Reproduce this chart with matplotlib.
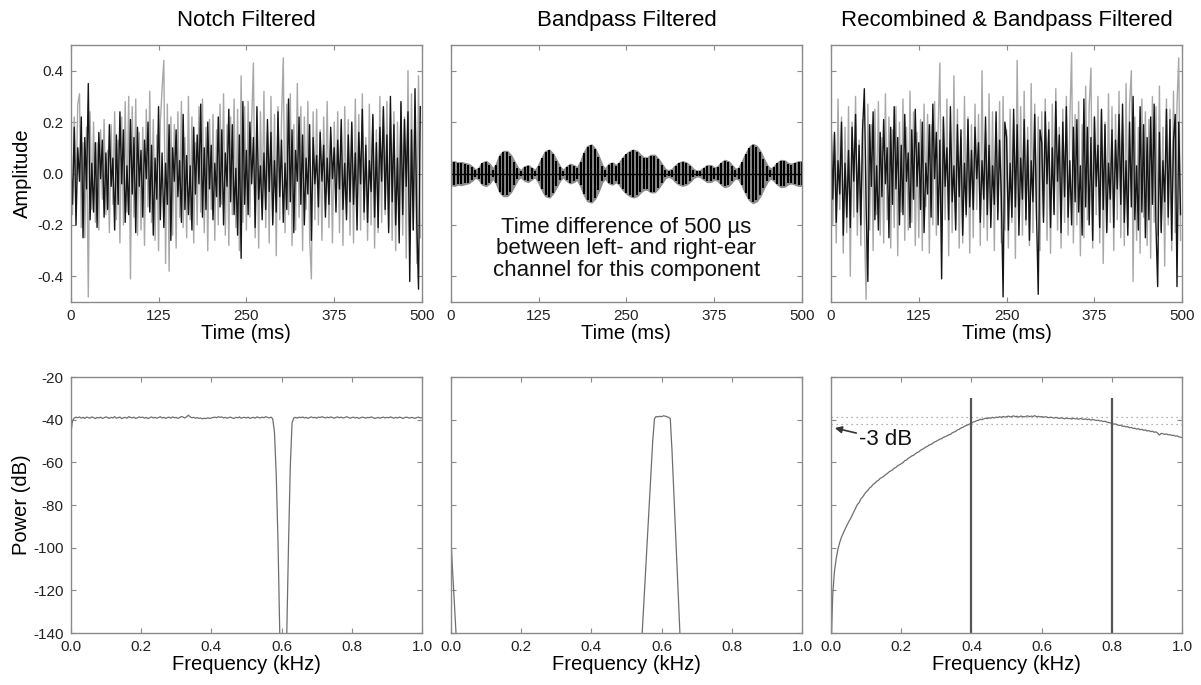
import matplotlib
matplotlib.use("Agg")
import matplotlib.pyplot as plt
import numpy as np

plt.rcParams['font.family'] = ['Liberation Sans', 'DejaVu Sans']

# ---- time-domain traces (ms grid, 2.5 ms per sample) ----
notch_gray = [
    0.14, -0.16, 0.22, -0.08, 0.27, 0.31, -0.21, 0.12, -0.25, 0.18, -0.48, 0.24, -0.14, 0.20, -0.19, 0.12, -0.22, 0.17, -0.10, 0.21,
    -0.16, 0.09, -0.23, 0.19, -0.12, 0.24, -0.18, 0.13, -0.27, 0.22, -0.20, 0.28, -0.15, 0.30, -0.41, 0.26, -0.17, 0.29, -0.24, 0.16,
    -0.22, 0.18, -0.28, 0.25, -0.13, 0.32, -0.19, 0.21, -0.26, 0.15, -0.30, 0.20, 0.33, 0.44, -0.35, 0.27, -0.38, 0.22, -0.24, 0.19,
    -0.29, 0.24, -0.17, 0.28, -0.21, 0.14, -0.25, 0.30, -0.18, 0.22, -0.27, 0.12, -0.20, 0.26, -0.15, 0.29, -0.23, 0.18, -0.30, 0.21,
    -0.14, 0.23, -0.26, 0.17, -0.20, 0.27, -0.12, 0.31, -0.24, 0.19, -0.28, 0.22, -0.16, 0.29, -0.21, 0.25, -0.30, 0.38, -0.19, 0.26,
    -0.22, 0.28, -0.17, 0.20, 0.43, -0.25, 0.18, -0.29, 0.24, -0.13, 0.32, -0.21, 0.16, -0.27, 0.30, -0.19, 0.23, -0.32, 0.26, -0.18,
    0.21, 0.45, -0.23, 0.27, -0.16, 0.31, -0.28, 0.19, -0.22, 0.35, -0.17, 0.26, -0.30, 0.22, -0.14, 0.28, -0.25, -0.41, 0.24, -0.18,
    0.25, -0.20, 0.17, -0.26, 0.22, -0.14, 0.28, -0.21, 0.15, -0.27, 0.20, -0.12, 0.24, -0.23, 0.18, -0.28, 0.26, -0.16, 0.21, -0.24,
    0.19, -0.27, 0.29, -0.15, 0.23, -0.22, 0.31, -0.18, 0.14, -0.26, 0.27, -0.20, 0.22, -0.29, 0.17, -0.23, 0.30, -0.19, 0.25, -0.16,
    0.28, -0.21, 0.18, -0.26, 0.24, -0.30, 0.20, -0.17, 0.27, -0.24, 0.22, -0.33, 0.40, -0.28, 0.31, -0.22, 0.26, -0.35, 0.38, -0.25,
]
notch_black = [
    0.05, -0.12, 0.18, -0.20, 0.10, -0.03, 0.22, -0.25, 0.14, -0.06, 0.35, -0.18, 0.04, -0.15, 0.12, -0.21, 0.16, -0.02, 0.13, -0.17,
    0.08, -0.14, 0.19, -0.05, 0.06, -0.22, 0.15, -0.12, 0.24, -0.04, 0.17, -0.19, 0.03, -0.16, 0.21, -0.08, 0.14, -0.23, 0.18, -0.05,
    0.09, -0.17, 0.13, -0.02, 0.20, -0.15, 0.11, -0.24, 0.06, -0.10, 0.26, -0.18, 0.08, -0.21, 0.04, -0.12, 0.19, -0.26, 0.10, -0.03,
    0.17, -0.09, 0.05, -0.19, 0.23, -0.14, 0.07, -0.16, 0.03, -0.22, 0.18, -0.08, 0.15, -0.04, 0.27, -0.17, 0.10, -0.14, 0.20, -0.06,
    0.11, -0.18, 0.04, -0.09, 0.22, -0.13, 0.17, -0.20, 0.08, -0.05, 0.25, -0.11, 0.19, -0.16, 0.02, -0.24, 0.15, -0.33, 0.28, -0.12,
    0.09, -0.16, 0.20, -0.04, 0.14, -0.21, 0.26, -0.10, 0.03, -0.18, 0.08, -0.14, 0.21, -0.07, 0.16, -0.20, 0.05, -0.15, 0.24, -0.09,
    0.13, -0.19, 0.04, -0.14, 0.29, -0.11, 0.17, -0.23, 0.09, -0.03, 0.22, -0.12, 0.15, -0.20, 0.06, -0.08, 0.19, -0.26, 0.14, -0.04,
    0.07, -0.13, 0.16, -0.03, 0.11, -0.17, 0.06, -0.12, 0.18, -0.02, 0.10, -0.15, 0.13, -0.06, 0.21, -0.14, 0.04, -0.18, 0.15, -0.11,
    0.20, -0.12, 0.08, -0.22, 0.16, -0.04, 0.25, -0.15, 0.11, -0.19, 0.05, -0.07, 0.23, -0.17, 0.12, -0.21, 0.18, -0.03, 0.26, -0.14,
    0.15, -0.23, 0.30, -0.11, 0.19, -0.20, 0.06, -0.27, 0.28, -0.16, 0.21, -0.05, 0.24, -0.42, 0.17, -0.22, 0.33, -0.19, -0.45, 0.26,
]
recomb_gray = [
    0.24, -0.20, 0.15, -0.27, 0.29, -0.14, 0.22, -0.31, 0.18, -0.23, 0.26, -0.40, 0.20, -0.17, 0.30, -0.24, 0.13, -0.28, 0.21, -0.19,
    -0.49, 0.27, -0.22, 0.19, -0.30, 0.25, -0.16, 0.28, -0.24, 0.14, -0.27, 0.31, -0.18, 0.22, -0.29, 0.17, -0.21, 0.26, -0.32, 0.20,
    -0.15, 0.29, -0.26, 0.18, -0.22, 0.32, -0.19, 0.24, -0.28, 0.16, -0.25, 0.21, -0.30, 0.27, -0.13, 0.23, -0.31, 0.19, -0.20, 0.28,
    -0.24, 0.17, 0.43, -0.26, 0.21, -0.18, 0.29, -0.32, 0.16, -0.23, 0.38, -0.20, 0.25, -0.29, 0.14, -0.27, 0.30, -0.17, 0.22, -0.31,
    0.19, -0.25, 0.27, -0.14, 0.23, -0.28, 0.40, -0.21, 0.16, -0.26, 0.31, -0.18, 0.24, -0.30, 0.20, -0.15, 0.28, -0.27, 0.30, -0.22,
    0.17, -0.29, 0.25, -0.19, 0.21, -0.33, 0.44, -0.16, 0.26, -0.24, 0.32, -0.20, 0.18, -0.28, 0.35, -0.23, 0.27, -0.18, 0.22, -0.30,
    0.24, -0.17, 0.29, -0.26, 0.20, -0.31, 0.27, -0.15, 0.33, -0.22, 0.18, -0.29, 0.25, -0.19, 0.30, -0.24, 0.21, 0.47, -0.27, 0.23,
    -0.20, 0.28, -0.32, 0.19, -0.25, 0.34, -0.18, 0.26, 0.41, -0.29, 0.22, -0.16, 0.30, -0.27, 0.24, -0.35, 0.20, -0.22, 0.31, -0.19,
    0.26, -0.30, 0.23, -0.18, 0.32, -0.25, 0.19, -0.28, 0.35, -0.21, 0.27, 0.40, -0.42, 0.22, -0.26, 0.18, -0.31, 0.29, -0.17, 0.24,
    -0.28, 0.21, -0.33, 0.30, -0.19, 0.26, -0.24, 0.34, -0.22, 0.18, -0.36, 0.29, -0.20, 0.25, -0.30, 0.32, -0.23, 0.27, 0.45, -0.26,
]
recomb_black = [
    0.22, -0.10, 0.16, -0.19, 0.05, -0.08, 0.20, -0.24, 0.04, -0.17, 0.09, -0.21, 0.18, -0.03, 0.23, -0.15, 0.11, -0.20, 0.17, 0.33,
    -0.13, -0.42, 0.19, -0.05, 0.24, -0.18, 0.03, -0.22, 0.16, -0.09, 0.21, -0.04, 0.10, -0.25, 0.18, -0.12, 0.26, -0.06, 0.14, -0.20,
    0.11, -0.16, 0.23, -0.03, 0.08, -0.21, 0.17, -0.10, 0.25, -0.05, 0.12, -0.14, 0.20, -0.23, 0.04, -0.08, 0.19, -0.17, 0.27, -0.02,
    0.16, -0.20, 0.13, -0.41, 0.22, -0.05, 0.10, -0.18, 0.26, -0.11, 0.03, -0.22, 0.19, -0.09, 0.17, -0.24, 0.04, -0.16, 0.21, -0.13,
    0.09, -0.14, 0.18, -0.02, 0.12, -0.19, 0.05, -0.10, 0.22, -0.16, 0.11, -0.21, 0.03, -0.12, 0.24, -0.18, 0.13, -0.09, -0.48, 0.20,
    0.14, -0.22, 0.04, -0.17, 0.25, -0.13, 0.19, -0.24, 0.06, -0.10, 0.21, -0.18, 0.13, -0.26, 0.05, -0.11, 0.23, -0.15, -0.47, 0.17,
    0.12, -0.19, 0.24, -0.04, 0.17, -0.21, 0.10, -0.16, 0.28, -0.03, 0.15, -0.23, 0.20, -0.09, 0.26, -0.17, 0.05, -0.20, 0.18, -0.11,
    0.21, -0.15, 0.03, -0.24, 0.29, -0.13, 0.18, -0.20, 0.14, -0.26, 0.22, -0.05, 0.11, -0.21, 0.25, -0.14, 0.19, -0.23, 0.04, -0.10,
    0.17, -0.21, 0.13, -0.06, 0.23, -0.12, 0.27, -0.19, 0.05, -0.24, 0.20, -0.13, 0.30, -0.18, 0.03, -0.22, 0.26, -0.15, 0.19, -0.25,
    0.14, -0.18, 0.22, -0.12, 0.27, -0.20, -0.44, 0.16, -0.23, 0.05, -0.11, 0.25, -0.17, 0.21, -0.26, 0.13, 0.23, -0.44, 0.20, -0.16,
]
# bandpass component: envelope amplitude every 5 ms (0..500)
bp_envelope = [
    0.042, 0.045, 0.040, 0.042, 0.038, 0.035, 0.025, 0.012, 0.020, 0.040,
    0.046, 0.035, 0.015, 0.035, 0.070, 0.085, 0.085, 0.070, 0.045, 0.020,
    0.010, 0.025, 0.030, 0.020, 0.010, 0.030, 0.060, 0.085, 0.090, 0.075,
    0.050, 0.025, 0.010, 0.025, 0.035, 0.030, 0.020, 0.045, 0.080, 0.105,
    0.110, 0.095, 0.065, 0.030, 0.015, 0.035, 0.040, 0.030, 0.040, 0.060,
    0.075, 0.085, 0.090, 0.085, 0.070, 0.060, 0.060, 0.070, 0.070, 0.055,
    0.035, 0.015, 0.010, 0.015, 0.030, 0.040, 0.045, 0.040, 0.030, 0.015,
    0.008, 0.010, 0.020, 0.030, 0.030, 0.020, 0.025, 0.040, 0.050, 0.045,
    0.030, 0.015, 0.020, 0.045, 0.075, 0.100, 0.112, 0.105, 0.085, 0.055,
    0.030, 0.015, 0.025, 0.040, 0.050, 0.048, 0.038, 0.035, 0.040, 0.045,
    0.045,
]

# ---- spectra (kHz grid, 0.005 kHz per sample) ----
notch_power = [
    -47.0, -40.5, -39.2, -38.8, -39.1, -38.7, -39.3, -38.9, -39.4, -38.8,
    -39.0, -39.3, -38.7, -39.0, -39.5, -38.9, -39.2, -38.8, -39.4, -39.1,
    -38.7, -39.0, -39.4, -38.9, -39.2, -38.6, -39.3, -39.0, -38.8, -39.5,
    -39.1, -38.9, -39.3, -38.6, -38.9, -39.2, -38.8, -39.4, -39.1, -38.7,
    -39.0, -38.8, -39.3, -38.9, -39.5, -39.1, -38.7, -39.2, -38.9, -39.3,
    -39.0, -38.6, -39.2, -38.9, -39.4, -39.0, -38.8, -39.3, -38.7, -39.1,
    -38.9, -39.4, -39.0, -38.5, -38.8, -39.2, -38.6, -37.9, -38.7, -39.1,
    -38.9, -39.3, -39.0, -39.4, -39.2, -39.6, -39.3, -39.5, -39.1, -39.4,
    -39.2, -39.0, -38.8, -39.1, -38.6, -38.9, -38.7, -39.2, -38.9, -39.3,
    -39.0, -38.8, -39.2, -39.4, -38.9, -39.1, -38.7, -39.3, -39.0, -38.9,
    -39.2, -38.8, -39.4, -39.1, -38.9, -39.3, -38.7, -39.0, -39.2, -38.8,
    -39.1, -38.6, -38.9, -39.2, -38.8, -39.6, -46.0, -66.0, -97.0, -140.0,
    -170.0, -175.0, -170.0, -140.0, -98.0, -62.0, -41.5, -39.2, -38.9, -39.3,
    -38.8, -39.1, -38.7, -39.2, -38.9, -39.4, -39.0, -38.7, -39.1, -38.9,
    -39.3, -38.8, -39.0, -38.6, -38.9, -39.2, -38.8, -39.1, -38.7, -39.0,
    -39.3, -38.9, -38.7, -39.1, -38.8, -39.2, -39.0, -38.6, -38.9, -39.3,
    -39.0, -38.8, -39.2, -38.9, -39.4, -39.1, -38.8, -39.0, -39.3, -38.9,
    -39.1, -38.7, -39.0, -39.4, -39.2, -38.9, -39.3, -39.0, -38.8, -39.2,
    -38.9, -39.1, -38.7, -39.0, -39.3, -38.9, -39.2, -38.8, -39.0, -39.4,
    -39.1, -38.8, -39.0, -39.3, -38.9, -39.1, -39.4, -39.0, -38.8, -39.2,
    -39.0,
]
recomb_power = [
    -150.0, -122.0, -111.0, -105.0, -100.5, -97.5, -95.0, -93.2, -91.5, -89.6,
    -88.0, -86.6, -84.9, -83.1, -81.6, -79.8, -78.9, -77.2, -76.3, -75.0,
    -73.9, -73.2, -72.0, -71.4, -70.3, -69.8, -68.9, -68.4, -67.5, -67.1,
    -66.6, -65.8, -65.3, -64.5, -64.0, -63.6, -62.7, -62.4, -61.5, -61.2,
    -60.6, -60.1, -59.2, -58.9, -58.1, -57.6, -57.0, -56.7, -56.0, -55.4,
    -55.1, -54.3, -53.9, -53.4, -52.8, -52.5, -51.8, -51.6, -51.0, -50.4,
    -50.1, -49.6, -49.1, -48.9, -48.3, -48.0, -47.6, -47.1, -46.9, -46.2,
    -45.8, -45.5, -44.8, -44.5, -43.9, -43.6, -43.1, -42.7, -42.4, -42.0,
    -41.7, -41.1, -40.9, -40.4, -40.3, -39.8, -40.0, -39.6, -39.3, -39.5,
    -39.1, -39.3, -38.9, -39.2, -38.8, -39.0, -38.6, -38.9, -38.5, -38.8,
    -38.6, -38.3, -38.7, -38.5, -38.2, -38.6, -38.4, -38.8, -38.3, -38.5,
    -38.7, -38.4, -38.2, -38.6, -38.3, -38.5, -38.1, -38.6, -38.4, -38.7,
    -38.5, -38.9, -38.6, -38.8, -39.1, -38.8, -39.0, -39.3, -38.9, -39.2,
    -39.4, -39.1, -39.3, -39.6, -39.2, -39.5, -39.4, -39.7, -39.3, -39.6,
    -39.5, -39.8, -39.4, -39.7, -39.9, -39.6, -40.0, -39.7, -40.2, -39.9,
    -40.1, -40.4, -40.2, -40.6, -40.5, -40.9, -40.7, -41.1, -41.3, -41.5,
    -41.7, -42.1, -42.0, -42.4, -42.7, -42.6, -43.1, -43.0, -43.4, -43.3,
    -43.8, -43.6, -44.1, -44.0, -44.4, -44.2, -44.7, -44.5, -45.0, -44.8,
    -45.3, -45.1, -45.6, -45.4, -45.9, -45.7, -46.3, -47.2, -46.4, -46.6,
    -46.9, -46.7, -47.1, -47.0, -47.4, -47.3, -47.7, -47.6, -48.0, -48.2,
    -48.5,
]
bp_freq = [0.0, 0.005, 0.01, 0.015, 0.02, 0.54, 0.545, 0.55, 0.555, 0.56, 0.565, 0.57, 0.575,
           0.58, 0.585, 0.59, 0.595, 0.60, 0.605, 0.61, 0.615, 0.62, 0.625,
           0.63, 0.635, 0.64, 0.645, 0.65, 0.655, 0.66, 1.0]
bp_power = [-94.0, -110.0, -125.0, -140.0, -160.0, -160.0, -140.0, -125.0, -110.0, -95.0, -80.0, -65.0, -50.0,
            -39.5, -38.5, -38.7, -38.4, -38.6, -38.2, -38.3, -38.6, -38.9, -39.5,
            -55.0, -74.0, -93.0, -112.0, -131.0, -150.0, -160.0, -160.0]

cutoff_freqs = [0.4, 0.8]
cutoff_top = -30
db_levels = [-38.8, -41.8]

titles = ['Notch Filtered', 'Bandpass Filtered', 'Recombined & Bandpass Filtered']
time_ticks = [0, 125, 250, 375, 500]
amp_ticks = [-0.4, -0.2, 0.0, 0.2, 0.4]
freq_ticks = [0.0, 0.2, 0.4, 0.6, 0.8, 1.0]
power_ticks = [-140, -120, -100, -80, -60, -40, -20]

t_noise = np.linspace(0, 500, len(notch_gray), endpoint=False)
t_env = np.linspace(0, 500, len(bp_envelope))
f_grid = np.linspace(0, 1, len(notch_power))

GRAY = '#a8a8a8'
FRAME = '#8a8a8a'
SPEC = '#6e6e6e'

fig = plt.figure(figsize=(12.01, 6.85), dpi=100)
lefts = [0.0589, 0.3753, 0.6919]
w = 0.2925
top_axes = [fig.add_axes([l, 0.5591, w, 0.3752]) for l in lefts]
bot_axes = [fig.add_axes([l, 0.0759, w, 0.3737]) for l in lefts]


def style(ax):
    for s in ax.spines.values():
        s.set_color(FRAME)
        s.set_linewidth(1.0)
    ax.tick_params(direction='in', length=3.5, width=0.8, color=FRAME,
                   top=True, right=True, labelsize=11, labelcolor='#222222', pad=5)


# top row
ax = top_axes[0]
ax.plot(t_noise, notch_gray, color=GRAY, lw=1.0)
ax.plot(t_noise, notch_black, color='#151515', lw=1.0)

ax = top_axes[1]
env = np.array(bp_envelope)
ax.fill_between(t_env, -env, env, color='#8c8c8c', lw=2.0, edgecolor='#8c8c8c')
ax.vlines(t_env, -env, env, color='#000000', lw=1.5)
ax.axhline(0, color='#000000', lw=1.0)
ax.text(250, -0.293, 'Time difference of 500 \u00b5s\nbetween left- and right-ear\nchannel for this component',
        ha='center', va='center', fontsize=16, linespacing=1.05, color='#111111')

ax = top_axes[2]
ax.plot(t_noise, recomb_gray, color=GRAY, lw=1.0)
ax.plot(t_noise, recomb_black, color='#151515', lw=1.0)

for i, ax in enumerate(top_axes):
    style(ax)
    ax.set_xlim(0, 500)
    ax.set_ylim(-0.5, 0.5)
    ax.set_xticks(time_ticks)
    ax.set_yticks(amp_ticks)
    ax.set_xlabel('Time (ms)', fontsize=14.5, labelpad=1)
    ax.set_title(titles[i], fontsize=16, pad=14)
    if i == 0:
        ax.set_yticklabels(['-0.4', '-0.2', '0.0', '0.2', '0.4'])
        ax.set_ylabel('Amplitude', fontsize=14.5, labelpad=4)
    else:
        ax.set_yticklabels([])

# bottom row
bot_axes[0].plot(f_grid, notch_power, color=SPEC, lw=0.9)
bot_axes[1].plot(bp_freq, bp_power, color=SPEC, lw=0.9)
ax = bot_axes[2]
for lev in db_levels:
    ax.axhline(lev, color='#999999', lw=0.9, ls=(0, (1, 3)))
ax.plot(f_grid, recomb_power, color=SPEC, lw=0.9)
ax.vlines(cutoff_freqs, -140, cutoff_top, color='#555555', lw=1.6)
ax.annotate('-3 dB', xy=(0.011, -43.9), xytext=(0.08, -49.5), fontsize=16,
            va='center', ha='left', color='#111111',
            arrowprops=dict(arrowstyle='-|>', color='#333333', lw=1.2, mutation_scale=10,
                            shrinkA=0, shrinkB=0))

for i, ax in enumerate(bot_axes):
    style(ax)
    ax.set_xlim(0, 1)
    ax.set_ylim(-140, -20)
    ax.set_xticks(freq_ticks)
    ax.set_xticklabels([f'{v:.1f}' for v in freq_ticks])
    ax.set_yticks(power_ticks)
    ax.set_xlabel('Frequency (kHz)', fontsize=14.5, labelpad=1)
    if i == 0:
        ax.set_yticklabels([str(v) for v in power_ticks])
        ax.set_ylabel('Power (dB)', fontsize=14.5, labelpad=2)
    else:
        ax.set_yticklabels([])

fig.savefig('out.png', dpi=100, facecolor='white')
